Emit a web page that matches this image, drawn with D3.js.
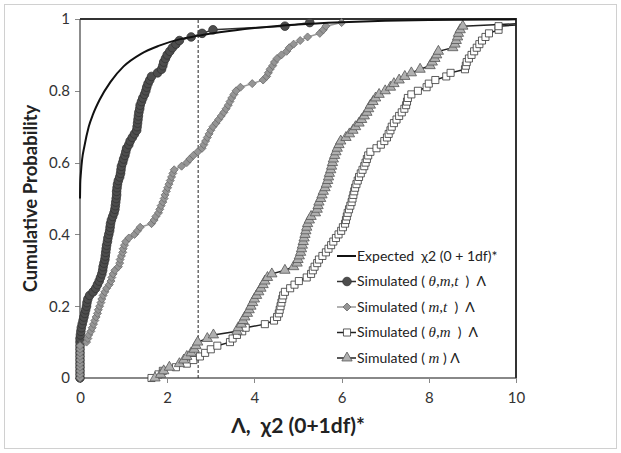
<!DOCTYPE html>
<meta charset="utf-8">
<style>
    body { margin: 0; background: #fff; }
    text { font-family: Lato, "Open Sans", sans-serif; fill: #222; white-space: pre; }
    .axis path, .axis line { fill: none; stroke: #888; shape-rendering: crispEdges; }
    .axis text { font-size: 15px; fill: #333; }
</style>
<body>
<script src="https://d3js.org/d3.v7.min.js"></script>
<script>
    // cumulative probability steps shared by the simulated series
    const cumProb = [0, 0.01, 0.02, 0.03, 0.04, 0.05, 0.06, 0.07, 0.08, 0.09,
        0.1, 0.11, 0.12, 0.13, 0.14, 0.15, 0.16, 0.17, 0.18, 0.19,
        0.2, 0.21, 0.22, 0.23, 0.24, 0.25, 0.26, 0.27, 0.28, 0.29,
        0.3, 0.31, 0.32, 0.33, 0.34, 0.35, 0.36, 0.37, 0.38, 0.39,
        0.4, 0.41, 0.42, 0.43, 0.44, 0.45, 0.46, 0.47, 0.48, 0.49,
        0.5, 0.51, 0.52, 0.53, 0.54, 0.55, 0.56, 0.57, 0.58, 0.59,
        0.6, 0.61, 0.62, 0.63, 0.64, 0.65, 0.66, 0.67, 0.68, 0.69,
        0.7, 0.71, 0.72, 0.73, 0.74, 0.75, 0.76, 0.77, 0.78, 0.79,
        0.8, 0.81, 0.82, 0.83, 0.84, 0.85, 0.86, 0.87, 0.88, 0.89,
        0.9, 0.91, 0.92, 0.93, 0.94, 0.95, 0.96, 0.97, 0.98, 0.99]

    // Lambda values, one per cumulative probability step
    const simThetaMT = [0, 0, 0, 0, 0, 0, 0, 0, 0, 0,
        0, 0, 0.01, 0.02, 0.03, 0.05, 0.07, 0.09, 0.11, 0.13,
        0.15, 0.16, 0.18, 0.22, 0.3, 0.36, 0.4, 0.44, 0.47, 0.5,
        0.52, 0.53, 0.55, 0.57, 0.58, 0.59, 0.6, 0.61, 0.63, 0.64,
        0.66, 0.68, 0.69, 0.7, 0.72, 0.75, 0.78, 0.8, 0.81, 0.82,
        0.83, 0.84, 0.84, 0.85, 0.86, 0.88, 0.91, 0.93, 0.94, 0.95,
        0.98, 1.0, 1.03, 1.05, 1.07, 1.12, 1.15, 1.2, 1.25, 1.3,
        1.31, 1.32, 1.33, 1.34, 1.35, 1.37, 1.38, 1.41, 1.44, 1.48,
        1.51, 1.53, 1.56, 1.6, 1.64, 1.78, 1.87, 1.9, 1.92, 1.96,
        2.0, 2.06, 2.12, 2.2, 2.28, 2.55, 2.8, 3.05, 4.7, 5.27]

    const simMT = [0, 0, 0, 0, 0, 0, 0, 0, 0, 0,
        0.15, 0.18, 0.2, 0.25, 0.28, 0.31, 0.34, 0.37, 0.4, 0.42,
        0.45, 0.48, 0.5, 0.53, 0.57, 0.61, 0.67, 0.71, 0.73, 0.76,
        0.8, 0.88, 0.91, 0.92, 0.95, 0.98, 0.99, 1.02, 1.05, 1.12,
        1.25, 1.32, 1.38, 1.64, 1.7, 1.74, 1.8, 1.83, 1.86, 1.9,
        1.93, 1.95, 1.98, 2.01, 2.04, 2.07, 2.1, 2.13, 2.16, 2.33,
        2.45, 2.52, 2.6, 2.7, 2.8, 2.84, 2.88, 2.92, 2.96, 3.0,
        3.05, 3.12, 3.18, 3.24, 3.3, 3.35, 3.4, 3.44, 3.48, 3.53,
        3.58, 3.68, 3.95, 4.2, 4.28, 4.32, 4.36, 4.42, 4.46, 4.52,
        4.62, 4.74, 4.8, 4.9, 5.05, 5.22, 5.5, 5.58, 5.64, 6.0]

    const simThetaM = [1.64, 1.8, 1.9, 2.2, 2.45, 2.6, 2.75, 2.87, 3.0, 3.15,
        3.44, 3.5, 3.6, 3.72, 3.8, 4.24, 4.45, 4.52, 4.56, 4.58,
        4.6, 4.62, 4.64, 4.66, 4.7, 4.82, 4.92, 5.02, 5.2, 5.3,
        5.34, 5.38, 5.44, 5.48, 5.56, 5.64, 5.7, 5.76, 5.81, 5.87,
        5.93, 5.99, 6.03, 6.08, 6.1, 6.12, 6.14, 6.17, 6.2, 6.23,
        6.25, 6.27, 6.29, 6.31, 6.34, 6.37, 6.4, 6.44, 6.48, 6.52,
        6.55, 6.58, 6.61, 6.66, 6.8, 6.9, 6.98, 7.04, 7.08, 7.12,
        7.15, 7.2, 7.26, 7.32, 7.38, 7.44, 7.48, 7.5, 7.52, 7.6,
        7.75, 7.95, 8.0, 8.15, 8.4, 8.5, 8.83, 8.85, 8.87, 8.92,
        8.98, 9.04, 9.1, 9.16, 9.22, 9.3, 9.38, 9.6, 9.6, 10.9]

    const simM = [1.72, 1.85, 1.92, 2.05, 2.28, 2.38, 2.45, 2.55, 2.62, 2.66,
        2.7, 2.92, 3.06, 3.6, 3.63, 3.7, 3.74, 3.78, 3.84, 3.88,
        3.92, 3.96, 4.0, 4.05, 4.1, 4.15, 4.2, 4.24, 4.3, 4.4,
        4.7, 4.9, 4.98, 5.0, 5.03, 5.06, 5.08, 5.1, 5.12, 5.14,
        5.16, 5.18, 5.2, 5.22, 5.26, 5.3, 5.4, 5.44, 5.46, 5.48,
        5.52, 5.55, 5.58, 5.62, 5.65, 5.68, 5.7, 5.72, 5.75, 5.77,
        5.79, 5.81, 5.84, 5.87, 5.9, 5.94, 5.98, 6.1, 6.18, 6.26,
        6.32, 6.4, 6.46, 6.52, 6.58, 6.62, 6.66, 6.72, 6.78, 6.86,
        7.0, 7.12, 7.2, 7.32, 7.45, 7.6, 7.8, 8.03, 8.08, 8.14,
        8.18, 8.22, 8.55, 8.6, 8.63, 8.66, 8.68, 8.72, 8.78, 10.6]

    // expected chi-square (0 + 1df) mixture curve
    const expectedX = [0, 0.005, 0.02, 0.05, 0.1, 0.2, 0.3, 0.45, 0.7, 1.0, 1.4, 1.8,
        2.3, 2.7, 3.2, 4, 5, 6, 7, 8, 10]
    const expectedP = [0.5, 0.54, 0.57, 0.61, 0.645, 0.7, 0.735, 0.775, 0.825, 0.868, 0.903, 0.925,
        0.944, 0.953, 0.963, 0.975, 0.985, 0.991, 0.995, 0.997, 0.999]

    const critical = 2.71
    const xTicks = [0, 2, 4, 6, 8, 10]
    const yTicks = [0, 0.2, 0.4, 0.6, 0.8, 1]

    const W = 621, H = 453
    const margin = {top: 19, right: 105, bottom: 75, left: 80}

    const x = d3.scaleLinear().domain([0, 10]).range([margin.left, W - margin.right])
    const y = d3.scaleLinear().domain([0, 1]).range([H - margin.bottom, margin.top])

    const svg = d3.select("body").append("svg")
        .attr("width", W)
        .attr("height", H)

    // outer chart frame
    svg.append("rect")
        .attr("x", 4.5).attr("y", 4.5)
        .attr("width", W - 9).attr("height", H - 9)
        .attr("fill", "#fff").attr("stroke", "#d0d0d0")

    svg.append("clipPath").attr("id", "plotClip")
        .append("rect")
        .attr("x", x(0) - 6).attr("y", y(1) - 1)
        .attr("width", x(10) - x(0) + 6).attr("height", y(0) - y(1) + 7)

    svg.append("g")
        .attr("class", "x axis")
        .attr("transform", `translate(0,${y(0)})`)
        .call(d3.axisBottom(x).tickValues(xTicks).tickSize(5).tickPadding(9).tickFormat(d3.format("~g")))
        .call(g => g.select(".domain").remove())

    svg.append("g")
        .attr("class", "y axis")
        .attr("transform", `translate(${x(0)},0)`)
        .call(d3.axisLeft(y).tickValues(yTicks).tickSize(5).tickPadding(5).tickFormat(d3.format("~g")))
        .call(g => g.select(".domain").remove())

    // plot area: gray bottom/left axes, dark top/right border
    svg.append("line")
        .attr("x1", x(0)).attr("x2", x(10)).attr("y1", y(0)).attr("y2", y(0))
        .attr("stroke", "#888").attr("stroke-width", 2)
    svg.append("line")
        .attr("x1", x(0)).attr("x2", x(0)).attr("y1", y(0)).attr("y2", y(1))
        .attr("stroke", "#666").attr("stroke-width", 1.5)
    svg.append("path")
        .attr("d", `M${x(0)},${y(1)}H${x(10)}V${y(0)}`)
        .attr("fill", "none").attr("stroke", "#333").attr("stroke-width", 2)

    // dashed critical value line
    svg.append("line")
        .attr("x1", x(critical)).attr("x2", x(critical))
        .attr("y1", y(0)).attr("y2", y(1))
        .attr("stroke", "#222").attr("stroke-width", 1)
        .attr("stroke-dasharray", "3,2")

    const plot = svg.append("g").attr("clip-path", "url(#plotClip)")

    const line = d3.line().x(d => x(d.x)).y(d => y(d.p))

    const series = [
        {name: "Simulated ( ", math: "θ,m,t", tail: "  )  Λ", xs: simThetaMT, shape: d3.symbolCircle, size: 58, rot: 0,
            fill: "#4d4d4d", stroke: "#333", lineColor: "#333"},
        {name: "Simulated ( ", math: "m,t", tail: "  )  Λ", xs: simMT, shape: d3.symbolSquare, size: 32, rot: 45,
            fill: "#959595", stroke: "#6e6e6e", lineColor: "#999"},
        {name: "Simulated ( ", math: "θ,m", tail: "  )  Λ", xs: simThetaM, shape: d3.symbolSquare, size: 50, rot: 0,
            fill: "#fff", stroke: "#333", lineColor: "#222"},
        {name: "Simulated ( ", math: "m", tail: " ) Λ", xs: simM, shape: d3.symbolTriangle, size: 46, rot: 0,
            fill: "#b0b0b0", stroke: "#555", lineColor: "#222"}
    ]

    series.forEach(s => {
        s.points = s.xs.map((v, i) => ({x: v, p: cumProb[i]}))
    })

    const expected = expectedX.map((v, i) => ({x: v, p: expectedP[i]}))

    // lines for all series first, then markers (series order)
    series.forEach(s => {
        plot.append("path")
            .datum(s.points)
            .attr("d", line)
            .attr("fill", "none")
            .attr("stroke", s.lineColor)
            .attr("stroke-width", 1.5)
    })

    series.forEach(s => {
        plot.selectAll(null)
            .data(s.points)
            .enter().append("path")
            .attr("transform", d => `translate(${x(d.x)},${y(d.p)}) rotate(${s.rot})`)
            .attr("d", d3.symbol().type(s.shape).size(s.size))
            .attr("fill", s.fill)
            .attr("stroke", s.stroke)
            .attr("stroke-width", 0.8)
    })

    plot.append("path")
        .datum(expected)
        .attr("d", line.curve(d3.curveMonotoneX))
        .attr("fill", "none")
        .attr("stroke", "#111")
        .attr("stroke-width", 2)

    // legend
    const legend = svg.append("g").attr("transform", "translate(337,256)")
    const rowH = 25.5

    const first = legend.append("g")
    first.append("line").attr("x1", 0).attr("x2", 19).attr("stroke", "#111").attr("stroke-width", 2)
    first.append("text").attr("x", 20).attr("dy", "0.35em").style("font-size", "14px")
        .text("Expected  χ2 (0 + 1df)*")

    series.forEach((s, i) => {
        const g = legend.append("g").attr("transform", `translate(0,${(i + 1) * rowH})`)
        g.append("line").attr("x1", 0).attr("x2", 19)
            .attr("stroke", s.lineColor).attr("stroke-width", 1.5)
        g.append("path")
            .attr("transform", `translate(10,0) rotate(${s.rot})`)
            .attr("d", d3.symbol().type(s.shape).size(s.size))
            .attr("fill", s.fill).attr("stroke", s.stroke).attr("stroke-width", 0.8)
        const t = g.append("text").attr("x", 20).attr("dy", "0.35em").style("font-size", "14px")
        t.append("tspan").text(s.name)
        t.append("tspan").text(s.math)
            .style("font-family", "'Liberation Serif', 'DejaVu Serif', serif")
            .style("font-style", "italic")
            .style("font-size", "15px")
        t.append("tspan").text(s.tail)
    })

    // axis titles
    svg.append("text")
        .attr("transform", `translate(37,${(y(0) + y(1)) / 2}) rotate(-90)`)
        .attr("text-anchor", "middle")
        .style("font-size", "18.5px")
        .style("font-weight", "bold")
        .text("Cumulative Probability")

    svg.append("text")
        .attr("x", (x(0) + x(10)) / 2)
        .attr("y", 433)
        .attr("text-anchor", "middle")
        .style("font-size", "21px")
        .style("font-weight", "bold")
        .text("Λ,  χ2 (0+1df)*")
</script>
</body>
